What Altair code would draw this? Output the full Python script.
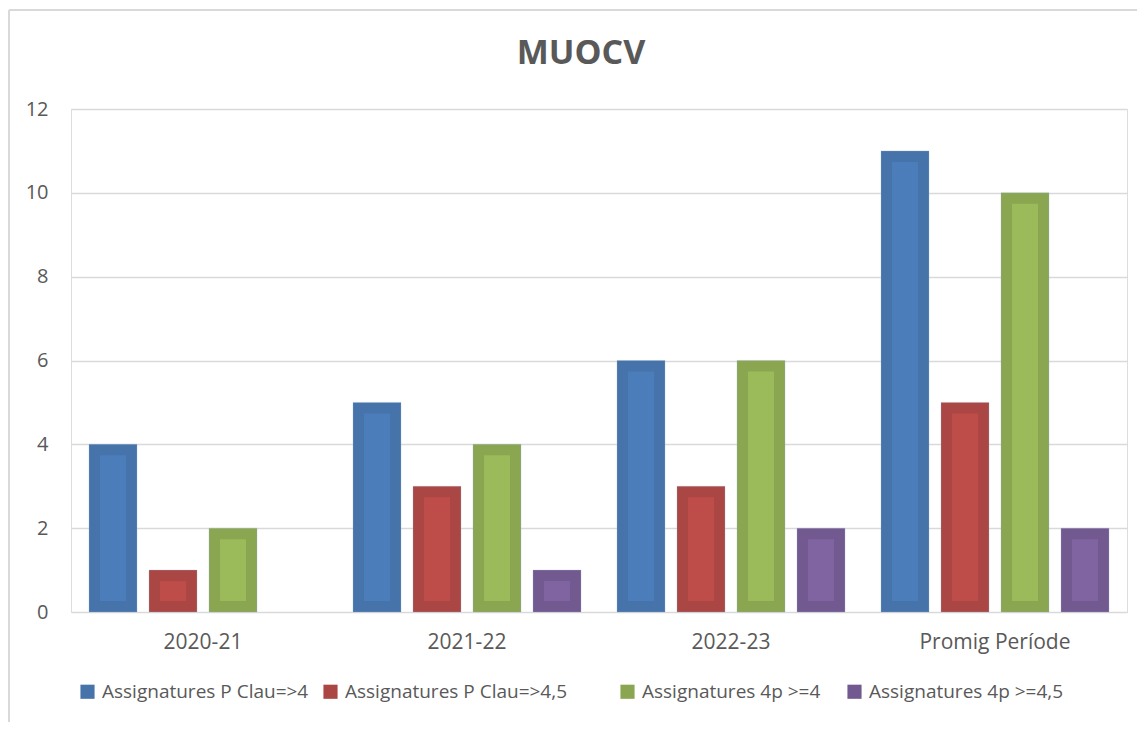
import altair as alt
import pandas as pd

periods = ["2020-21", "2021-22", "2022-23", "Promig Període"]
series = ["Assignatures P Clau=>4", "Assignatures P Clau=>4,5",
          "Assignatures 4p >=4", "Assignatures 4p >=4,5"]
v_pclau4 = [4, 5, 6, 11]
v_pclau45 = [1, 3, 3, 5]
v_4p4 = [2, 4, 6, 10]
v_4p45 = [0, 1, 2, 2]
title_text = "MUOCV"

outer_colors = ["#4673AA", "#AA4643", "#8AA650", "#725990"]
inner_colors = ["#4B7DBB", "#BE4C49", "#9BBA59", "#8064A2"]

rows = []
for s, vals in zip(series, [v_pclau4, v_pclau45, v_4p4, v_4p45]):
    for p, v in zip(periods, vals):
        rows.append({"period": p, "series": s, "value": v})
df = pd.DataFrame(rows)

FONT = "Open Sans"
TXT = "#595959"

x_enc = alt.X("period:N", sort=periods,
              scale=alt.Scale(paddingInner=24 / 264, paddingOuter=12 / 264),
              axis=alt.Axis(title=None, labelAngle=0, labelFont=FONT, labelFontSize=21,
                            labelColor=TXT, ticks=False, domain=False, labelPadding=19))
xo_enc = alt.XOffset("series:N", sort=series,
                     scale=alt.Scale(paddingInner=0.2, paddingOuter=0.1))
y_enc = alt.Y("value:Q", scale=alt.Scale(domain=[0, 12], nice=False),
              axis=alt.Axis(title=None, values=[0, 2, 4, 6, 8, 10, 12], labelFont=FONT,
                            labelFontSize=20, labelColor=TXT, ticks=False, domain=False,
                            labelPadding=23, gridColor="#D9D9D9", gridWidth=1.5))

base = alt.Chart(df).transform_filter("datum.value > 0")

label_expr = (
    "indexof(datum.label, 'Clau=>4,5') > 0 ? datum.label + '\u2003\u2003\u200b' : "
    "(indexof(datum.label, '>=4,5') < 0 && indexof(datum.label, '4p') > 0 ? "
    "datum.label + '\u2002\u2009\u200b' : datum.label)"
)

outer = base.mark_bar(stroke="#9FB3CF", strokeWidth=0.6, strokeOpacity=0.5).encode(
    x=x_enc, xOffset=xo_enc, y=y_enc,
    color=alt.Color("series:N", sort=series,
                    scale=alt.Scale(domain=series, range=outer_colors),
                    legend=alt.Legend(title=None, orient="none", direction="horizontal",
                                      legendX=7, legendY=573, columns=4,
                                      symbolType="square", symbolSize=200,
                                      symbolStrokeWidth=0, labelFont=FONT,
                                      labelFontSize=19, labelColor=TXT,
                                      labelOffset=5, columnPadding=12, labelLimit=400,
                                      labelExpr=label_expr)),
)

inner = base.mark_bar(size=26, yOffset=11, y2Offset=-11).encode(
    x=x_enc, xOffset=xo_enc, y=y_enc, y2=alt.datum(0),
    fill=alt.Fill("series:N", sort=series,
                  scale=alt.Scale(domain=series, range=inner_colors), legend=None),
)

one = alt.Data(values=[{"t": title_text}])
title_mark = alt.Chart(one).mark_text(
    font=FONT, fontSize=34, fontWeight="bold", color=TXT,
    align="center", baseline="alphabetic").encode(
    text="t:N", x=alt.value(510), y=alt.value(-45))

frame_left = alt.Chart(one).mark_rule(color="#D9D9D9", strokeWidth=2).encode(
    x=alt.value(-62), y=alt.value(-99), y2=alt.value(640))
frame_top = alt.Chart(one).mark_rule(color="#D9D9D9", strokeWidth=2).encode(
    x=alt.value(-62), x2=alt.value(1080), y=alt.value(-99))

chart = alt.layer(frame_left, frame_top, outer, inner, title_mark).properties(
    width=1056, height=503,
    autosize=alt.AutoSizeParams(type="none"),
    padding={"left": 63, "top": 101, "right": 10, "bottom": 110},
).configure_view(strokeWidth=0).configure(background="white")

chart.save("out.html", embed_options={"renderer": "svg", "actions": False})
